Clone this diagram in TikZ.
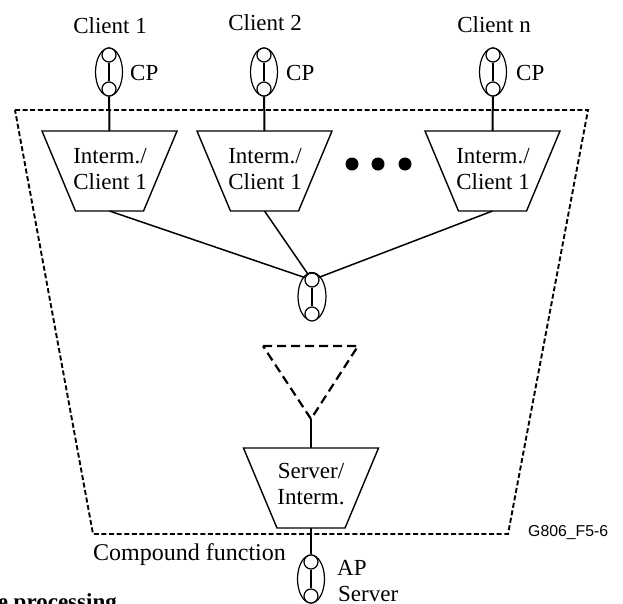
\documentclass[tikz,border=0pt]{standalone}
\usepackage{fontspec}
\setmainfont{Liberation Serif}
\newfontfamily\figfont{Liberation Sans}
\usetikzlibrary{shapes.geometric}

\tikzset{
  txt/.style={inner sep=0pt, font=\fontsize{23}{26}\selectfont, align=center},
  oval/.style={draw, ellipse, line width=1.2pt, inner sep=0pt, minimum width=27pt, minimum height=48pt},
  port/.style={draw, circle, line width=1.2pt, inner sep=0pt, minimum size=14pt, fill=white},
  rod/.style={line width=2pt},
  wire/.style={line width=1.5pt},
  adapt/.style={draw, trapezium, shape border rotate=180, trapezium stretches=true, trapezium angle=63.8,
    line width=1.4pt, inner sep=0pt, outer sep=0pt, minimum width=135pt, minimum height=80pt},
  dot/.style={circle, fill=black, inner sep=0pt, minimum size=13pt}
}

\begin{document}
\begin{tikzpicture}[x=1pt,y=-1pt]
  \path[use as bounding box, clip] (0,0) rectangle (623,603);
  % compound function boundary
  \draw[line width=1.9pt, dash pattern=on 5pt off 2.6pt] (15,110) -- (588,110) -- (508,534) -- (93,534) -- cycle;
  % clients
  \node[txt, anchor=base] (cla) at (110,33) {Client 1};
  \node[txt, anchor=base] (clb) at (265,30) {Client 2};
  \node[txt, anchor=base] (cln) at (494,32) {Client n};
  \node[oval] (cpa) at (109,72) {};
  \node[port] (cpat) at (109,55) {};
  \node[port] (cpab) at (109,89) {};
  \node[txt, anchor=base west] (cpatxt) at (130,80) {CP};
  \node[oval] (cpb) at (264,72) {};
  \node[port] (cpbt) at (264,55) {};
  \node[port] (cpbb) at (264,89) {};
  \node[txt, anchor=base west] (cpbtxt) at (286,80) {CP};
  \node[oval] (cpn) at (493,72) {};
  \node[port] (cpnt) at (493,55) {};
  \node[port] (cpnb) at (493,89) {};
  \node[txt, anchor=base west] (cpntxt) at (516,80) {CP};
  \draw[rod] (cpat) -- (cpab);
  \draw[rod] (cpbt) -- (cpbb);
  \draw[rod] (cpnt) -- (cpnb);
  % adaptation functions
  \node[adapt] (inta) at (109.5,171) {\phantom{\rule{1pt}{1pt}}};
  \node[adapt] (intb) at (264.5,171) {\phantom{\rule{1pt}{1pt}}};
  \node[adapt] (intn) at (492.5,171) {\phantom{\rule{1pt}{1pt}}};
  \node[txt, anchor=base] (intatxt) at (110,189) {Interm./\\Client 1};
  \node[txt, anchor=base] (intbtxt) at (265,189) {Interm./\\Client 1};
  \node[txt, anchor=base] (intntxt) at (493,189) {Interm./\\Client 1};
  \draw[rod] (cpab) -- (inta.north);
  \draw[rod] (cpbb) -- (intb.north);
  \draw[rod] (cpnb) -- (intn.north);
  \node[dot] (dota) at (352,164) {};
  \node[dot] (dotb) at (378,164) {};
  \node[dot] (dotc) at (405,164) {};
  % connection point in the middle
  \node[oval, minimum width=28pt] (mid) at (312,296.5) {};
  \node[port] (midt) at (312,280) {};
  \node[port] (midb) at (312,314) {};
  \draw[rod] (midt) -- (midb);
  \draw[wire] (inta.south) -- (midt);
  \draw[wire] (intb.south) -- (midt);
  \draw[wire] (intn.south) -- (midt);
  % dashed triangle
  \coordinate (tria) at (263,346);
  \coordinate (trib) at (358,346);
  \coordinate (tric) at (311,419);
  \draw[line width=2.2pt, dash pattern=on 9pt off 5pt] (tria) -- (trib) -- (tric) -- cycle;
  % server side
  \node[adapt] (srv) at (311,488) {\phantom{\rule{1pt}{1pt}}};
  \node[txt, anchor=base] (srvtxt) at (311,504) {Server/\\Interm.};
  \draw[rod] (tric) -- (srv.north);
  \node[oval] (ap) at (311,579) {};
  \node[port] (apt) at (311,562) {};
  \node[port] (apb) at (311,596) {};
  \draw[rod] (apt) -- (apb);
  \draw[rod] (srv.south) -- (apt);
  \node[txt, anchor=base west] (aptxt) at (337,575) {AP};
  \node[txt, anchor=base west] (servtxt) at (338,601) {Server};
  \node[txt, anchor=base west, font=\fontsize{24}{26}\selectfont] (comptxt) at (93,560) {Compound function};
  \node[anchor=base west, inner sep=0pt, font=\figfont\fontsize{15.8}{18}\selectfont] (figtxt) at (528,536) {G806\_F5-6};
  \node[txt, anchor=base east, font=\fontsize{23}{26}\selectfont\bfseries] (proctxt) at (117,609) {e processing};
\end{tikzpicture}
\end{document}
